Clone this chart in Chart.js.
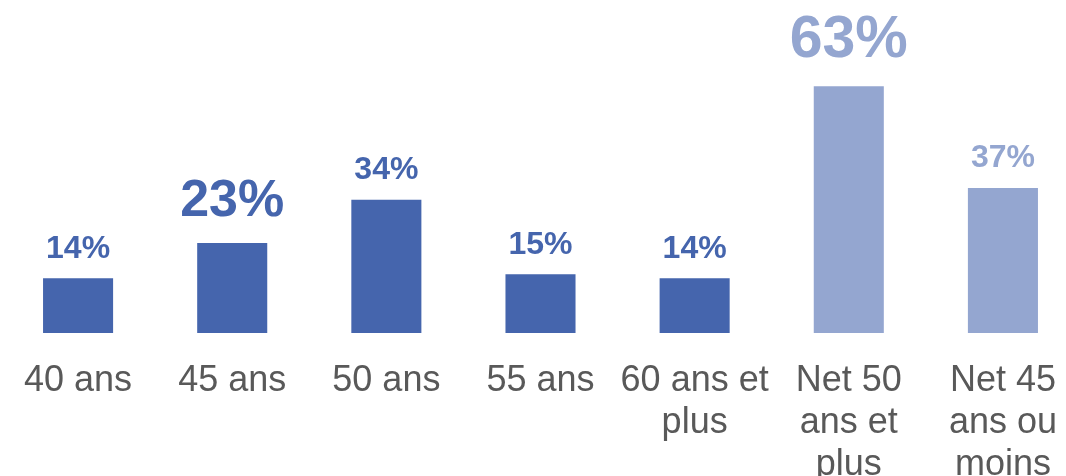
<!DOCTYPE html>
<html>
<head>
<meta charset="utf-8">
<script src="https://cdn.jsdelivr.net/npm/chart.js@4"></script>
<style>
    html, body { margin: 0; padding: 0; background: #fff; overflow: hidden; }
    canvas { display: block; }
</style>
</head>
<body>
<canvas id="ageChart" width="1080" height="476"></canvas>
<script>
    // Data
    const categories = [
        '40 ans',
        '45 ans',
        '50 ans',
        '55 ans',
        ['60 ans et', 'plus'],
        ['Net 50', 'ans et', 'plus'],
        ['Net 45', 'ans ou', 'moins']
    ];
    const values = [14, 23, 34, 15, 14, 63, 37];
    const isNet = [false, false, false, false, false, true, true];

    const darkBlue = '#4565ad';
    const lightBlue = '#94a6d0';
    // value label font sizes (the highlighted ones are bigger)
    const labelSizes = [32, 52, 32, 32, 32, 59, 32];

    const barColors = isNet.map(n => n ? lightBlue : darkBlue);

    // Draw the % labels above each bar
    const valueLabels = {
        id: 'valueLabels',
        afterDatasetsDraw(chart) {
            const ctx = chart.ctx;
            const meta = chart.getDatasetMeta(0);
            ctx.save();
            ctx.textAlign = 'center';
            ctx.textBaseline = 'alphabetic';
            meta.data.forEach((bar, i) => {
                const size = labelSizes[i];
                ctx.font = 'bold ' + size + 'px "Liberation Sans", Arial, sans-serif';
                ctx.fillStyle = barColors[i];
                ctx.fillText(values[i] + '%', bar.x, bar.y - (10 + 0.33 * size));
            });
            ctx.restore();
        }
    };

    const ctx = document.getElementById('ageChart').getContext('2d');
    new Chart(ctx, {
        type: 'bar',
        data: {
            labels: categories,
            datasets: [{
                data: values,
                backgroundColor: barColors,
                borderWidth: 0,
                barPercentage: 0.4545,
                categoryPercentage: 1
            }]
        },
        options: {
            responsive: false,
            animation: false,
            layout: { padding: { left: 1, right: 0, top: 0, bottom: 0 } },
            plugins: {
                legend: { display: false },
                tooltip: { enabled: false }
            },
            scales: {
                y: {
                    display: false,
                    min: 0,
                    max: 85
                },
                x: {
                    // invisible tick marks just push the labels down
                    grid: {
                        color: 'rgba(0,0,0,0)',
                        drawOnChartArea: false,
                        drawTicks: true,
                        tickLength: 27
                    },
                    border: { display: false },
                    ticks: {
                        color: '#595959',
                        padding: 0,
                        maxRotation: 0,
                        autoSkip: false,
                        font: {
                            family: '"Liberation Sans", Arial, sans-serif',
                            size: 36,
                            lineHeight: 1.17
                        }
                    },
                    afterFit(scale) {
                        scale.height = 143;
                        scale.paddingLeft = 0;
                        scale.paddingRight = 0;
                    }
                }
            }
        },
        plugins: [valueLabels]
    });
</script>
</body>
</html>
